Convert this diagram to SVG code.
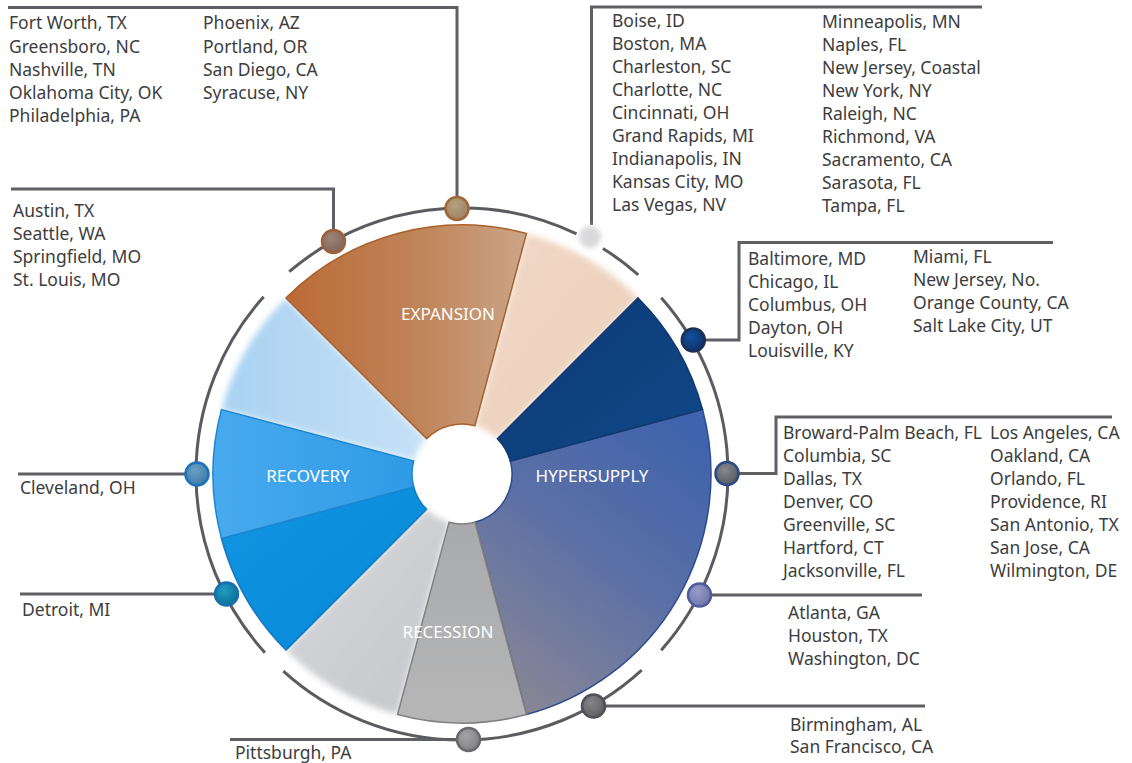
<svg xmlns="http://www.w3.org/2000/svg" width="1132" height="763" viewBox="0 0 1132 763">
  <defs>
    <style>
      .city { font-family: "Noto Sans", "Liberation Sans", sans-serif; font-size: 17.5px; fill: #3d3d40; }
      .phase { font-family: "Noto Sans", "Liberation Sans", sans-serif; font-size: 17px; fill: #ffffff; text-anchor: middle; }
      .wire { fill: none; stroke: #5f5f66; stroke-width: 3; }
      .ring { fill: none; stroke: #5b5b62; stroke-width: 3; }
      .dot { stroke-width: 2.5; }
    </style>
    <filter id="soft" x="-20%" y="-20%" width="140%" height="140%">
      <feGaussianBlur stdDeviation="3"/>
    </filter>
    <filter id="haze" x="-50%" y="-50%" width="200%" height="200%">
      <feGaussianBlur stdDeviation="2.5"/>
    </filter>
    <linearGradient id="gExp" x1="0" y1="0" x2="1" y2="0">
      <stop offset="0" stop-color="#bc6a36"/>
      <stop offset="0.55" stop-color="#bf8459"/>
      <stop offset="1" stop-color="#cba587"/>
    </linearGradient>
    <linearGradient id="gPeach" x1="0" y1="0" x2="1" y2="1">
      <stop offset="0" stop-color="#f1d8c6"/>
      <stop offset="1" stop-color="#ecd0bb"/>
    </linearGradient>
    <linearGradient id="gNavy" x1="0" y1="0" x2="1" y2="1">
      <stop offset="0" stop-color="#0a3a74"/>
      <stop offset="1" stop-color="#114888"/>
    </linearGradient>
    <linearGradient id="gHyper" x1="0.8" y1="0" x2="0.2" y2="1">
      <stop offset="0" stop-color="#3f63ac"/>
      <stop offset="0.45" stop-color="#5a6fa6"/>
      <stop offset="1" stop-color="#8a8795"/>
    </linearGradient>
    <linearGradient id="gRec" x1="0" y1="0" x2="0" y2="1">
      <stop offset="0" stop-color="#a9aaab"/>
      <stop offset="1" stop-color="#b6b6b7"/>
    </linearGradient>
    <linearGradient id="gPaleGray" x1="0" y1="0" x2="1" y2="1">
      <stop offset="0" stop-color="#d6d7da"/>
      <stop offset="1" stop-color="#c6c7ca"/>
    </linearGradient>
    <linearGradient id="gBright" x1="0" y1="0" x2="1" y2="1">
      <stop offset="0" stop-color="#1196e2"/>
      <stop offset="1" stop-color="#0687d6"/>
    </linearGradient>
    <linearGradient id="gLight" x1="0" y1="0" x2="1" y2="0">
      <stop offset="0" stop-color="#48aaee"/>
      <stop offset="1" stop-color="#2f9be6"/>
    </linearGradient>
    <linearGradient id="gPaleBlue" x1="0" y1="0" x2="1" y2="0">
      <stop offset="0" stop-color="#a9d2f2"/>
      <stop offset="1" stop-color="#c7e1f6"/>
    </linearGradient>
    <radialGradient id="dTan" cx="0.4" cy="0.35" r="0.7">
      <stop offset="0" stop-color="#b7a07c"/>
      <stop offset="1" stop-color="#9a8262"/>
    </radialGradient>
    <radialGradient id="dMauve" cx="0.4" cy="0.35" r="0.7">
      <stop offset="0" stop-color="#9c8478"/>
      <stop offset="1" stop-color="#7d6458"/>
    </radialGradient>
    <radialGradient id="dNavy" cx="0.4" cy="0.35" r="0.7">
      <stop offset="0" stop-color="#1550a0"/>
      <stop offset="1" stop-color="#0a2f63"/>
    </radialGradient>
    <radialGradient id="dSlate" cx="0.4" cy="0.35" r="0.7">
      <stop offset="0" stop-color="#858890"/>
      <stop offset="1" stop-color="#55585f"/>
    </radialGradient>
    <radialGradient id="dLav" cx="0.4" cy="0.35" r="0.7">
      <stop offset="0" stop-color="#969cc8"/>
      <stop offset="1" stop-color="#6d74a8"/>
    </radialGradient>
    <radialGradient id="dGray" cx="0.4" cy="0.35" r="0.7">
      <stop offset="0" stop-color="#858587"/>
      <stop offset="1" stop-color="#5e5e61"/>
    </radialGradient>
    <radialGradient id="dLightGray" cx="0.4" cy="0.35" r="0.7">
      <stop offset="0" stop-color="#a4a4a6"/>
      <stop offset="1" stop-color="#7e7e82"/>
    </radialGradient>
    <radialGradient id="dTeal" cx="0.4" cy="0.35" r="0.7">
      <stop offset="0" stop-color="#1e9cc0"/>
      <stop offset="1" stop-color="#0d6f95"/>
    </radialGradient>
    <radialGradient id="dSteel" cx="0.4" cy="0.35" r="0.7">
      <stop offset="0" stop-color="#6aa0c6"/>
      <stop offset="1" stop-color="#3a7aa6"/>
    </radialGradient>
  </defs>

  <rect width="1132" height="763" fill="#ffffff"/>

  <!-- cycle wheel: centre (462,474), inner radius 50, outer radius 249 -->
  <g id="wheel">
    <g filter="url(#soft)">
      <path d="M 526.45 233.48 A 249 249 0 0 1 638.07 297.93 L 497.36 438.64 A 50 50 0 0 0 474.94 425.70 Z" fill="url(#gPeach)"/>
      <path d="M 397.55 714.52 A 249 249 0 0 1 285.93 650.07 L 426.64 509.36 A 50 50 0 0 0 449.06 522.30 Z" fill="url(#gPaleGray)"/>
      <path d="M 221.48 409.55 A 249 249 0 0 1 285.93 297.93 L 426.64 438.64 A 50 50 0 0 0 413.70 461.06 Z" fill="url(#gPaleBlue)"/>
    </g>
    <path d="M 285.93 297.93 A 249 249 0 0 1 526.45 233.48 L 474.94 425.70 A 50 50 0 0 0 426.64 438.64 Z" fill="url(#gExp)" stroke="#a9612c" stroke-width="1.5"/>
    <path d="M 702.52 409.55 A 249 249 0 0 1 526.45 714.52 L 474.94 522.30 A 50 50 0 0 0 510.30 461.06 Z" fill="url(#gHyper)" stroke="#2d4d8f" stroke-width="1.5"/>
    <path d="M 638.07 297.93 A 249 249 0 0 1 702.52 409.55 L 510.30 461.06 A 50 50 0 0 0 497.36 438.64 Z" fill="url(#gNavy)" stroke="#123a70" stroke-width="1.5"/>
    <line x1="474.94" y1="522.30" x2="526.45" y2="714.52" stroke="#6e6e74" stroke-width="2"/>
    <path d="M 526.45 714.52 A 249 249 0 0 1 397.55 714.52 L 449.06 522.30 A 50 50 0 0 0 474.94 522.30 Z" fill="url(#gRec)" stroke="#808084" stroke-width="1.5"/>
    <path d="M 285.93 650.07 A 249 249 0 0 1 221.48 538.45 L 413.70 486.94 A 50 50 0 0 0 426.64 509.36 Z" fill="url(#gBright)" stroke="#1679c4" stroke-width="1.5"/>
    <path d="M 221.48 538.45 A 249 249 0 0 1 221.48 409.55 L 413.70 461.06 A 50 50 0 0 0 413.70 486.94 Z" fill="url(#gLight)" stroke="#1f86d0" stroke-width="1.5"/>
    <text class="phase" x="448" y="319.5">EXPANSION</text>
    <text class="phase" x="592" y="482">HYPERSUPPLY</text>
    <text class="phase" x="448" y="638">RECESSION</text>
    <text class="phase" x="308" y="482">RECOVERY</text>
  </g>

  <!-- outer ring, radius 266, broken at the phase boundaries -->
  <g id="ring">
    <path class="ring" d="M 289.25 271.73 A 266 266 0 0 1 576.52 233.91"/>
    <path class="ring" d="M 602.96 248.42 A 266 266 0 0 1 638.26 274.78"/>
    <path class="ring" d="M 661.22 297.74 A 266 266 0 0 1 661.22 650.26"/>
    <path class="ring" d="M 641.71 670.12 A 266 266 0 0 1 283.32 671.05"/>
    <path class="ring" d="M 264.95 652.68 A 266 266 0 0 1 263.70 296.70"/>
  </g>

  <!-- leader lines from the ring markers to the city lists -->
  <g id="connectors">
    <path class="wire" d="M 8 7.5 H 457 V 197"/>
    <path class="wire" d="M 11 189 H 333.5 V 230"/>
    <path class="wire" d="M 591.5 225 V 7 H 982"/>
    <path class="wire" d="M 1053 242.5 H 739 V 340 H 705"/>
    <path class="wire" d="M 1112 417 H 776 V 473.5 H 739"/>
    <path class="wire" d="M 711 595 H 922"/>
    <path class="wire" d="M 605 706 H 925"/>
    <path class="wire" d="M 230 739.5 H 457"/>
    <path class="wire" d="M 18 474 H 185"/>
    <path class="wire" d="M 20 594 H 215"/>
  </g>

  <g id="node-expansion-peak">
    <circle class="dot" cx="457" cy="208.5" r="11.5" fill="url(#dTan)" stroke="#a0683a"/>
    <text class="city">
      <tspan x="9" y="29">Fort Worth, TX</tspan>
      <tspan x="9" y="52.5">Greensboro, NC</tspan>
      <tspan x="9" y="76">Nashville, TN</tspan>
      <tspan x="9" y="99">Oklahoma City, OK</tspan>
      <tspan x="9" y="122">Philadelphia, PA</tspan>
    </text>
    <text class="city">
      <tspan x="203" y="29">Phoenix, AZ</tspan>
      <tspan x="203" y="52.5">Portland, OR</tspan>
      <tspan x="203" y="76">San Diego, CA</tspan>
      <tspan x="203" y="99">Syracuse, NY</tspan>
    </text>
  </g>

  <g id="node-expansion-early">
    <circle class="dot" cx="333.5" cy="241.5" r="11.5" fill="url(#dMauve)" stroke="#a0603a"/>
    <text class="city">
      <tspan x="13" y="217">Austin, TX</tspan>
      <tspan x="13" y="240">Seattle, WA</tspan>
      <tspan x="13" y="263">Springfield, MO</tspan>
      <tspan x="13" y="286">St. Louis, MO</tspan>
    </text>
  </g>

  <g id="node-expansion-late">
    <circle cx="590" cy="237" r="11" fill="#d9d9dc" filter="url(#haze)"/>
    <text class="city">
      <tspan x="612" y="26.5">Boise, ID</tspan>
      <tspan x="612" y="49.5">Boston, MA</tspan>
      <tspan x="612" y="72.5">Charleston, SC</tspan>
      <tspan x="612" y="95.5">Charlotte, NC</tspan>
      <tspan x="612" y="118.5">Cincinnati, OH</tspan>
      <tspan x="612" y="141.5">Grand Rapids, MI</tspan>
      <tspan x="612" y="164.5">Indianapolis, IN</tspan>
      <tspan x="612" y="187.5">Kansas City, MO</tspan>
      <tspan x="612" y="210.5">Las Vegas, NV</tspan>
    </text>
    <text class="city">
      <tspan x="822" y="27.5">Minneapolis, MN</tspan>
      <tspan x="822" y="50.5">Naples, FL</tspan>
      <tspan x="822" y="73.5">New Jersey, Coastal</tspan>
      <tspan x="822" y="96.5">New York, NY</tspan>
      <tspan x="822" y="119.5">Raleigh, NC</tspan>
      <tspan x="822" y="142.5">Richmond, VA</tspan>
      <tspan x="822" y="165.5">Sacramento, CA</tspan>
      <tspan x="822" y="188.5">Sarasota, FL</tspan>
      <tspan x="822" y="211.5">Tampa, FL</tspan>
    </text>
  </g>

  <g id="node-hypersupply-early">
    <circle class="dot" cx="693.3" cy="340" r="11.5" fill="url(#dNavy)" stroke="#1c2f55"/>
    <text class="city">
      <tspan x="748" y="265">Baltimore, MD</tspan>
      <tspan x="748" y="288">Chicago, IL</tspan>
      <tspan x="748" y="311">Columbus, OH</tspan>
      <tspan x="748" y="334">Dayton, OH</tspan>
      <tspan x="748" y="357">Louisville, KY</tspan>
    </text>
    <text class="city">
      <tspan x="913" y="262.5">Miami, FL</tspan>
      <tspan x="913" y="285.5">New Jersey, No.</tspan>
      <tspan x="913" y="308.5">Orange County, CA</tspan>
      <tspan x="913" y="331.5">Salt Lake City, UT</tspan>
    </text>
  </g>

  <g id="node-hypersupply-mid">
    <circle class="dot" cx="727" cy="473.5" r="11.5" fill="url(#dSlate)" stroke="#2b4b85"/>
    <text class="city">
      <tspan x="783" y="439">Broward-Palm Beach, FL</tspan>
      <tspan x="783" y="462">Columbia, SC</tspan>
      <tspan x="783" y="485">Dallas, TX</tspan>
      <tspan x="783" y="508">Denver, CO</tspan>
      <tspan x="783" y="531">Greenville, SC</tspan>
      <tspan x="783" y="554">Hartford, CT</tspan>
      <tspan x="783" y="577">Jacksonville, FL</tspan>
    </text>
    <text class="city">
      <tspan x="990" y="439">Los Angeles, CA</tspan>
      <tspan x="990" y="462">Oakland, CA</tspan>
      <tspan x="990" y="485">Orlando, FL</tspan>
      <tspan x="990" y="508">Providence, RI</tspan>
      <tspan x="990" y="531">San Antonio, TX</tspan>
      <tspan x="990" y="554">San Jose, CA</tspan>
      <tspan x="990" y="577">Wilmington, DE</tspan>
    </text>
  </g>

  <g id="node-hypersupply-late">
    <circle class="dot" cx="699.5" cy="595" r="11.5" fill="url(#dLav)" stroke="#4e5c9e"/>
    <text class="city">
      <tspan x="788" y="619">Atlanta, GA</tspan>
      <tspan x="788" y="642">Houston, TX</tspan>
      <tspan x="788" y="665">Washington, DC</tspan>
    </text>
  </g>

  <g id="node-recession-early">
    <circle class="dot" cx="593.5" cy="706" r="11.5" fill="url(#dGray)" stroke="#505058"/>
    <text class="city">
      <tspan x="790" y="730.5">Birmingham, AL</tspan>
      <tspan x="790" y="753">San Francisco, CA</tspan>
    </text>
  </g>

  <g id="node-recession-trough">
    <circle class="dot" cx="468.5" cy="739.5" r="11.5" fill="url(#dLightGray)" stroke="#6a6a6e"/>
    <text class="city" x="235" y="759">Pittsburgh, PA</text>
  </g>

  <g id="node-recovery-early">
    <circle class="dot" cx="226.5" cy="594" r="11.5" fill="url(#dTeal)" stroke="#1a6fb3"/>
    <text class="city" x="22" y="615.5">Detroit, MI</text>
  </g>

  <g id="node-recovery-mid">
    <circle class="dot" cx="197" cy="474" r="11.5" fill="url(#dSteel)" stroke="#1f72b8"/>
    <text class="city" x="20" y="493.5">Cleveland, OH</text>
  </g>
</svg>
